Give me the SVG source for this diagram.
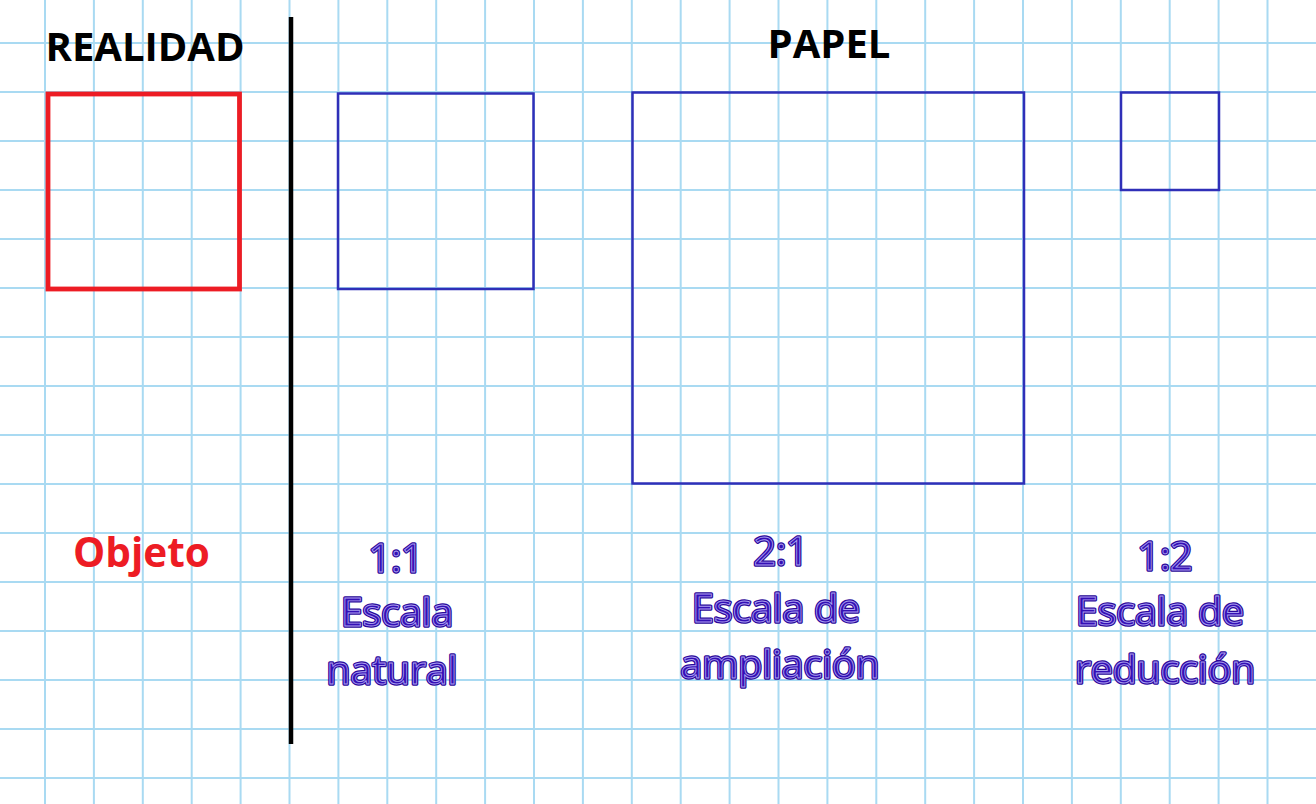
<svg xmlns="http://www.w3.org/2000/svg" width="1316" height="804" viewBox="0 0 1316 804">
<style>
.grid line{stroke:#a9daf2;stroke-width:2}
.head{font-family:"Open Sans","Liberation Sans",sans-serif;font-weight:bold;font-size:40px;fill:#000}
.obj{font-family:"Open Sans","Liberation Sans",sans-serif;font-weight:bold;font-size:40.5px;fill:#ed1c24}
.lblA{font-family:"Open Sans","Liberation Sans",sans-serif;font-size:39px;fill:#2e0ca8;stroke:#2a0898;stroke-width:3.4;stroke-linejoin:round;text-anchor:middle}
.lblB{font-family:"Open Sans","Liberation Sans",sans-serif;font-size:39px;fill:#3410b4;stroke:#a89ef0;stroke-width:0.9;text-anchor:middle}
.sq{fill:none;stroke:#2f2fb8;stroke-width:2.5}
</style>
<rect width="1316" height="804" fill="#fff"/>
<g class="grid" id="grid">
<line x1="45" y1="0" x2="45" y2="804"/><line x1="93.9" y1="0" x2="93.9" y2="804"/><line x1="142.8" y1="0" x2="142.8" y2="804"/><line x1="191.7" y1="0" x2="191.7" y2="804"/><line x1="240.6" y1="0" x2="240.6" y2="804"/><line x1="289.5" y1="0" x2="289.5" y2="804"/><line x1="338.4" y1="0" x2="338.4" y2="804"/><line x1="387.3" y1="0" x2="387.3" y2="804"/><line x1="436.2" y1="0" x2="436.2" y2="804"/><line x1="485.1" y1="0" x2="485.1" y2="804"/><line x1="534" y1="0" x2="534" y2="804"/><line x1="582.9" y1="0" x2="582.9" y2="804"/><line x1="631.8" y1="0" x2="631.8" y2="804"/><line x1="680.7" y1="0" x2="680.7" y2="804"/><line x1="729.6" y1="0" x2="729.6" y2="804"/><line x1="778.5" y1="0" x2="778.5" y2="804"/><line x1="827.4" y1="0" x2="827.4" y2="804"/><line x1="876.3" y1="0" x2="876.3" y2="804"/><line x1="925.2" y1="0" x2="925.2" y2="804"/><line x1="974.1" y1="0" x2="974.1" y2="804"/><line x1="1023" y1="0" x2="1023" y2="804"/><line x1="1071.9" y1="0" x2="1071.9" y2="804"/><line x1="1120.8" y1="0" x2="1120.8" y2="804"/><line x1="1169.7" y1="0" x2="1169.7" y2="804"/><line x1="1218.6" y1="0" x2="1218.6" y2="804"/><line x1="1267.5" y1="0" x2="1267.5" y2="804"/>
<line x1="0" y1="43" x2="1316" y2="43"/><line x1="0" y1="92" x2="1316" y2="92"/><line x1="0" y1="141" x2="1316" y2="141"/><line x1="0" y1="190" x2="1316" y2="190"/><line x1="0" y1="239" x2="1316" y2="239"/><line x1="0" y1="288" x2="1316" y2="288"/><line x1="0" y1="337" x2="1316" y2="337"/><line x1="0" y1="386" x2="1316" y2="386"/><line x1="0" y1="435" x2="1316" y2="435"/><line x1="0" y1="484" x2="1316" y2="484"/><line x1="0" y1="533" x2="1316" y2="533"/><line x1="0" y1="582" x2="1316" y2="582"/><line x1="0" y1="631" x2="1316" y2="631"/><line x1="0" y1="680" x2="1316" y2="680"/><line x1="0" y1="729" x2="1316" y2="729"/><line x1="0" y1="778" x2="1316" y2="778"/>
</g>
<g id="divider"><line x1="291" y1="17" x2="291" y2="744" stroke="#000" stroke-width="4.5"/></g>
<g id="headers">
<text class="head" x="145" y="61" text-anchor="middle">REALIDAD</text>
<text class="head" x="829" y="58" text-anchor="middle">PAPEL</text>
</g>
<g id="objeto">
<rect x="48" y="94" width="191.5" height="195" fill="none" stroke="#ed1c24" stroke-width="4.8"/>
<text class="obj" x="141.5" y="567" text-anchor="middle">Objeto</text>
</g>
<g id="escala-natural">
<rect class="sq" x="338" y="93.5" width="195.5" height="195.5"/>
<text class="lblA" x="396" y="572">1:1</text><text class="lblB" x="396" y="572">1:1</text>
<text class="lblA" x="397" y="626">Escala</text><text class="lblB" x="397" y="626">Escala</text>
<text class="lblA" x="392" y="684">natural</text><text class="lblB" x="392" y="684">natural</text>
</g>
<g id="escala-ampliacion">
<rect class="sq" x="632.5" y="92.5" width="391.5" height="391"/>
<text class="lblA" x="781" y="565">2:1</text><text class="lblB" x="781" y="565">2:1</text>
<text class="lblA" x="776" y="622">Escala de</text><text class="lblB" x="776" y="622">Escala de</text>
<text class="lblA" x="780" y="678">ampliación</text><text class="lblB" x="780" y="678">ampliación</text>
</g>
<g id="escala-reduccion">
<rect class="sq" x="1121" y="92.5" width="98" height="97.5"/>
<text class="lblA" x="1165" y="570">1:2</text><text class="lblB" x="1165" y="570">1:2</text>
<text class="lblA" x="1160" y="625">Escala de</text><text class="lblB" x="1160" y="625">Escala de</text>
<text class="lblA" x="1165" y="683">reducción</text><text class="lblB" x="1165" y="683">reducción</text>
</g>
</svg>
